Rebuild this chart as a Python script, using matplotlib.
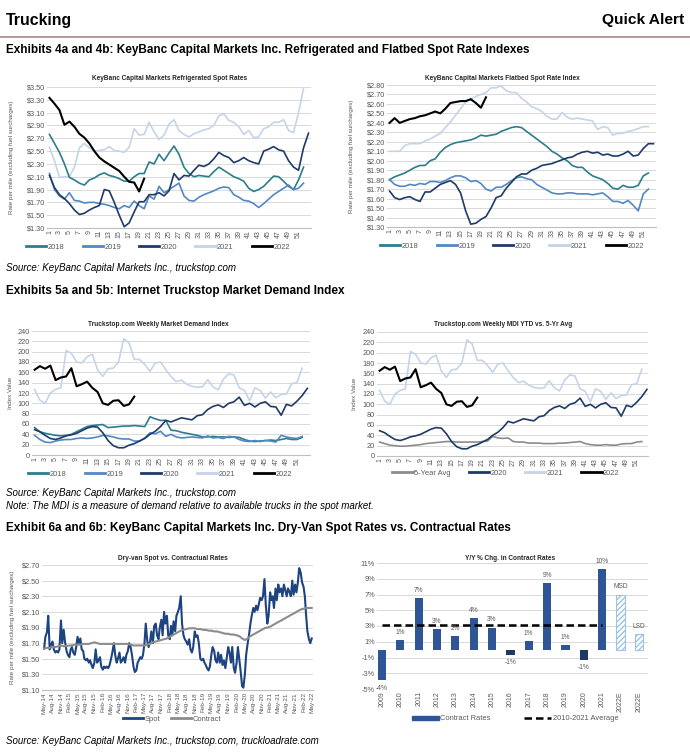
import matplotlib
matplotlib.use("Agg")
import matplotlib.pyplot as plt
from matplotlib import font_manager
from matplotlib.lines import Line2D
from matplotlib.patches import Patch
from matplotlib.ticker import FuncFormatter
import numpy as np
import pandas as pd

# --- Exhibit 4a: refrigerated spot rates ($/mile), by week
ref_2018 = [2.76, 2.62, 2.48, 2.30, 2.09, 2.05, 2.00, 1.97, 2.05, 2.08, 2.13, 2.16, 2.12, 2.10, 2.07, 2.03, 2.03,
            2.10, 2.15, 2.15, 2.33, 2.30, 2.45, 2.35, 2.47, 2.58, 2.45, 2.25, 2.15, 2.10, 2.12, 2.11, 2.10, 2.18,
            2.25, 2.20, 2.15, 2.10, 2.07, 2.03, 1.92, 1.87, 1.90, 1.95, 2.03, 2.11, 2.10, 2.03, 1.95, 1.90, 2.05, 2.25]
ref_2019 = [2.15, 1.90, 1.80, 1.75, 1.85, 1.73, 1.72, 1.69, 1.70, 1.70, 1.68, 1.67, 1.65, 1.62, 1.60, 1.65, 1.62,
            1.72, 1.65, 1.60, 1.80, 1.75, 1.95, 1.85, 1.90, 1.95, 2.00, 1.80, 1.73, 1.72, 1.78, 1.82, 1.85, 1.88,
            1.92, 1.94, 1.93, 1.82, 1.78, 1.73, 1.72, 1.68, 1.62, 1.68, 1.75, 1.82, 1.87, 1.92, 1.97, 1.90, 1.92, 2.00]
ref_2020 = [2.12, 1.93, 1.82, 1.76, 1.68, 1.58, 1.51, 1.53, 1.58, 1.62, 1.65, 1.90, 1.88, 1.70, 1.50, 1.32, 1.38,
            1.55, 1.71, 1.71, 1.82, 1.82, 1.85, 1.80, 1.88, 2.15, 2.05, 2.12, 2.11, 2.20, 2.28, 2.26, 2.30, 2.38,
            2.48, 2.43, 2.40, 2.32, 2.35, 2.40, 2.35, 2.32, 2.30, 2.50, 2.53, 2.57, 2.52, 2.50, 2.35, 2.25, 2.20,
            2.55, 2.78]
ref_2021 = [2.56, 2.35, 2.09, 2.10, 2.10, 2.25, 2.55, 2.62, 2.55, 2.50, 2.51, 2.52, 2.57, 2.51, 2.50, 2.48, 2.56,
            2.85, 2.75, 2.76, 2.95, 2.80, 2.68, 2.75, 2.92, 2.99, 2.82, 2.76, 2.72, 2.77, 2.80, 2.83, 2.85, 2.90,
            3.05, 3.08, 2.98, 2.95, 2.88, 2.76, 2.82, 2.71, 2.72, 2.85, 2.88, 2.95, 2.95, 2.99, 2.82, 2.79, 3.10, 3.48]
ref_2022 = [3.33, 3.24, 3.14, 2.91, 2.96, 2.88, 2.77, 2.71, 2.62, 2.50, 2.40, 2.34, 2.29, 2.24, 2.19, 2.10, 2.02,
            2.01, 1.87, 2.07]

# --- Exhibit 4b: flatbed spot rates ($/mile), by week
flat_2018 = [1.80, 1.83, 1.85, 1.87, 1.90, 1.93, 1.95, 1.95, 2.00, 2.02, 2.09, 2.14, 2.17, 2.19, 2.20, 2.21, 2.22,
             2.24, 2.27, 2.26, 2.27, 2.28, 2.31, 2.33, 2.35, 2.36, 2.35, 2.31, 2.27, 2.23, 2.19, 2.15, 2.10, 2.07,
             2.03, 2.00, 1.95, 1.93, 1.93, 1.88, 1.84, 1.82, 1.80, 1.76, 1.71, 1.70, 1.74, 1.72, 1.72, 1.74, 1.84, 1.87]
flat_2019 = [1.80, 1.75, 1.73, 1.73, 1.75, 1.74, 1.76, 1.75, 1.78, 1.78, 1.77, 1.79, 1.82, 1.84, 1.84, 1.82, 1.78,
             1.79, 1.76, 1.70, 1.68, 1.72, 1.72, 1.75, 1.79, 1.82, 1.83, 1.81, 1.80, 1.75, 1.72, 1.69, 1.66, 1.65,
             1.65, 1.66, 1.66, 1.65, 1.65, 1.65, 1.64, 1.65, 1.66, 1.62, 1.57, 1.57, 1.55, 1.58, 1.53, 1.47, 1.65, 1.70]
flat_2020 = [1.68, 1.61, 1.59, 1.61, 1.62, 1.59, 1.57, 1.67, 1.67, 1.71, 1.75, 1.77, 1.79, 1.75, 1.66, 1.47, 1.33,
             1.34, 1.38, 1.41, 1.50, 1.61, 1.63, 1.71, 1.77, 1.83, 1.86, 1.86, 1.90, 1.92, 1.95, 1.96, 1.97, 1.99,
             2.01, 2.03, 2.04, 2.07, 2.09, 2.10, 2.08, 2.09, 2.06, 2.07, 2.05, 2.05, 2.07, 2.10, 2.05, 2.06, 2.13,
             2.18, 2.18]
flat_2021 = [2.10, 2.10, 2.10, 2.16, 2.18, 2.18, 2.18, 2.21, 2.23, 2.26, 2.29, 2.35, 2.41, 2.48, 2.55, 2.62, 2.65,
             2.68, 2.70, 2.72, 2.77, 2.77, 2.79, 2.74, 2.72, 2.72, 2.66, 2.62, 2.57, 2.55, 2.52, 2.47, 2.44, 2.44,
             2.51, 2.46, 2.44, 2.45, 2.44, 2.43, 2.42, 2.33, 2.36, 2.35, 2.27, 2.29, 2.29, 2.31, 2.32, 2.34, 2.36, 2.36]
flat_2022 = [2.40, 2.45, 2.40, 2.42, 2.44, 2.45, 2.47, 2.48, 2.50, 2.52, 2.50, 2.55, 2.61, 2.62, 2.63, 2.63, 2.65,
             2.61, 2.56, 2.67]

# --- Exhibits 5a/5b: Truckstop.com market demand index, by week
mdi_2018 = [53, 45, 42, 40, 38, 37, 38, 40, 45, 50, 55, 57, 58, 59, 53, 54, 55, 56, 56, 57, 56, 55, 74, 70, 67, 67,
            48, 47, 44, 42, 40, 38, 35, 35, 36, 35, 35, 34, 35, 34, 30, 27, 26, 27, 28, 29, 28, 30, 32, 30, 30, 34]
mdi_2019 = [38, 30, 25, 24, 27, 29, 30, 30, 32, 33, 32, 33, 35, 38, 37, 35, 32, 31, 31, 27, 27, 33, 43, 41, 46, 36,
            40, 35, 33, 34, 35, 34, 33, 37, 33, 34, 32, 36, 35, 30, 27, 26, 28, 26, 28, 27, 25, 38, 35, 33, 32, 36]
mdi_2020 = [49, 45, 38, 32, 30, 33, 37, 39, 42, 47, 52, 55, 54, 43, 28, 18, 14, 14, 19, 22, 27, 32, 40, 46, 55, 67,
            64, 68, 72, 70, 68, 76, 78, 88, 94, 97, 92, 100, 103, 112, 96, 100, 93, 100, 103, 94, 93, 77, 98, 95,
            104, 115, 129]
mdi_2021 = [127, 106, 100, 120, 127, 130, 202, 197, 180, 178, 190, 195, 165, 152, 167, 168, 180, 225, 217, 185, 185,
            175, 162, 178, 180, 165, 152, 142, 145, 137, 133, 131, 132, 146, 132, 126, 147, 157, 155, 130, 125, 105,
            130, 125, 110, 122, 111, 117, 118, 138, 140, 168]
mdi_2022 = [165, 172, 167, 173, 145, 150, 152, 168, 133, 137, 142, 130, 122, 100, 97, 105, 106, 95, 98, 113]
mdi_5yr = [27, 24, 21, 20, 19, 19, 20, 21, 22, 24, 25, 26, 27, 28, 28, 27, 27, 27, 27, 27, 28, 29, 38, 35, 34, 35,
           28, 27, 27, 25, 25, 25, 24, 24, 24, 25, 25, 26, 27, 28, 24, 22, 21, 21, 22, 21, 21, 23, 24, 24, 27, 28]

# --- Exhibit 6a: dry-van spot (twice a month) and contract (monthly), from May-14
spot = [1.63, 1.78, 1.84, 2.05, 1.62, 1.68, 1.72, 1.62, 1.58, 1.60, 1.58, 1.62, 1.99, 1.70, 1.87, 1.72,
        1.60, 1.55, 1.52, 1.62, 1.65, 1.58, 1.55, 1.64, 1.78, 1.70, 1.76, 1.62, 1.60, 1.50, 1.48, 1.50,
        1.45, 1.48, 1.42, 1.38, 1.45, 1.62, 1.45, 1.48, 1.52, 1.40, 1.36, 1.40, 1.38, 1.40, 1.38, 1.42,
        1.50, 1.58, 1.70, 1.55, 1.45, 1.50, 1.58, 1.45, 1.48, 1.52, 1.45, 1.55, 1.60, 1.70, 1.65, 1.55,
        1.40, 1.33, 1.35, 1.45, 1.48, 1.52, 1.50, 1.55, 1.70, 1.95, 1.72, 1.65, 1.72, 1.85, 1.70, 1.92,
        1.95, 1.80, 1.75, 1.90, 2.00, 1.80, 2.10, 1.95, 2.05, 1.80, 1.75, 1.92, 1.80, 1.98, 1.85, 2.05,
        2.10, 2.15, 2.30, 1.95, 1.80, 1.75, 1.72, 1.68, 1.75, 1.62, 1.58, 1.65, 1.85, 1.78, 1.80, 1.70,
        1.50, 1.48, 1.50, 1.45, 1.42, 1.38, 1.35, 1.40, 1.55, 1.65, 1.60, 1.48, 1.45, 1.58, 1.45, 1.55,
        1.42, 1.48, 1.38, 1.50, 1.65, 1.58, 1.45, 1.65, 1.38, 1.32, 1.45, 1.65, 1.50, 1.35, 1.15, 1.13,
        1.30, 1.55, 1.70, 1.80, 1.95, 2.05, 2.15, 2.10, 2.18, 2.12, 2.20, 2.28, 2.25, 2.30, 2.52, 2.20,
        1.95, 2.05, 2.35, 2.25, 2.30, 2.15, 2.40, 2.25, 2.45, 2.35, 2.40, 2.30, 2.45, 2.38, 2.30, 2.40,
        2.35, 2.30, 2.50, 2.32, 2.45, 2.35, 2.48, 2.66, 2.60, 2.48, 2.42, 2.30, 2.05, 1.85, 1.75, 1.70,
        1.76]
contract = [1.63, 1.64, 1.64, 1.65, 1.65, 1.66, 1.67, 1.66, 1.66, 1.67, 1.67, 1.68,
            1.68, 1.68, 1.69, 1.69, 1.69, 1.70, 1.71, 1.70, 1.69, 1.69, 1.69, 1.69,
            1.69, 1.69, 1.69, 1.69, 1.69, 1.69, 1.69, 1.68, 1.67, 1.67, 1.67, 1.67,
            1.67, 1.68, 1.69, 1.71, 1.72, 1.73, 1.74, 1.75, 1.76, 1.78, 1.80, 1.82,
            1.84, 1.86, 1.87, 1.88, 1.89, 1.89, 1.89, 1.88, 1.88, 1.87, 1.87, 1.86,
            1.86, 1.85, 1.85, 1.84, 1.83, 1.82, 1.82, 1.81, 1.81, 1.80, 1.79, 1.76,
            1.74, 1.76, 1.79, 1.81, 1.83, 1.85, 1.87, 1.89, 1.90, 1.91, 1.93, 1.95,
            1.97, 1.99, 2.01, 2.03, 2.05, 2.07, 2.09, 2.11, 2.13, 2.14, 2.15, 2.15,
            2.15]

# --- Exhibit 6b: y/y % change in contract rates
bar_years = ["2009", "2010", "2011", "2012", "2013", "2014", "2015", "2016", "2017", "2018", "2019", "2020",
             "2021", "2022E", "2022E"]
bar_vals = [-3.9, 1.2, 6.5, 2.6, 1.7, 4.0, 2.8, -0.7, 1.1, 8.5, 0.6, -1.3, 10.2, 7.0, 2.0]
bar_text = ["-4%", "1%", "7%", "3%", "2%", "4%", "3%", "-1%", "1%", "9%", "1%", "-1%", "10%", "MSD", "LSD"]
avg_2010_2021 = 3.1

C18, C19, C20, C21, C22 = "#2c7d8c", "#5288c4", "#1f3a68", "#c5d4e8", "#000000"
GRID = "#d9d9d9"
TXT = "#595959"

installed = {f.name for f in font_manager.fontManager.ttflist}
if "Liberation Sans Narrow" in installed:
    NARROW, NS = "Liberation Sans Narrow", 1.0
else:
    NARROW, NS = "Liberation Sans", 0.82
plt.rcParams["font.family"] = ["Liberation Sans", "DejaVu Sans"]

W, H = 690, 754
fig = plt.figure(figsize=(W / 100, H / 100), dpi=100)


def box(l, t, r, b):
    return fig.add_axes([l / W, 1 - b / H, (r - l) / W, (b - t) / H])


def put(x, y, s, **kw):
    fig.text(x / W, 1 - y / H, s, **kw)


def base_style(ax, lo, hi, step, fmt):
    ax.set_ylim(lo, hi)
    ax.set_yticks(np.arange(lo, hi + step / 2, step))
    ax.yaxis.set_major_formatter(FuncFormatter(fmt))
    ax.grid(axis="y", color=GRID, lw=0.7)
    ax.set_axisbelow(True)
    for s in ["top", "right", "left"]:
        ax.spines[s].set_visible(False)
    ax.spines["bottom"].set_color("#bfbfbf")
    ax.tick_params(axis="both", length=0, labelsize=5.3, colors=TXT, pad=1.5)


def weekly(ax, series, lo, hi, step, fmt, xmax=53.5):
    for vals, col, lw in series:
        ax.plot(range(1, len(vals) + 1), vals, color=col, lw=lw, solid_joinstyle="round")
    base_style(ax, lo, hi, step, fmt)
    ax.set_xlim(0.5, xmax)
    ax.set_xticks(range(1, 52, 2))
    ax.set_xticklabels([str(w) for w in range(1, 52, 2)], rotation=90, fontsize=5)


def legend_at(ax, handles, labels, cx, cy, **kw):
    opts = dict(loc="center", ncol=len(handles), frameon=False, fontsize=5.4, handlelength=2.7,
                handletextpad=0.2, columnspacing=2.4, labelcolor=TXT)
    opts.update(kw)
    ax.legend(handles, labels, bbox_to_anchor=(cx / W, 1 - cy / H), bbox_transform=fig.transFigure, **opts)


dollar = lambda v, _: f"${v:.2f}"
plain = lambda v, _: f"{v:.0f}"
pct = lambda v, _: f"{v:.0f}%"

# header
put(6, 20, "Trucking", fontsize=14 * NS, weight="bold", family=NARROW, va="center")
put(684, 20, "Quick Alert", fontsize=13.6 * NS, weight="bold", family=NARROW, va="center", ha="right")
fig.add_artist(Line2D([0, 1], [1 - 37 / H] * 2, color="#b09090", lw=1.3, transform=fig.transFigure))
head = dict(fontsize=10.3 * NS, weight="bold", family=NARROW, va="center")
note = dict(fontsize=8.6 * NS, style="italic", family=NARROW, va="center")
put(6, 50, "Exhibits 4a and 4b: KeyBanc Capital Markets Inc. Refrigerated and Flatbed Spot Rate Indexes", **head)
put(6, 268, "Source: KeyBanc Capital Markets Inc., truckstop.com", **note)
put(6, 291, "Exhibits 5a and 5b: Internet Truckstop Market Demand Index", **head)
put(6, 493, "Source: KeyBanc Capital Markets Inc., truckstop.com", **note)
put(6, 506, "Note: The MDI is a measure of demand relative to available trucks in the spot market.", **note)
put(6, 528, "Exhibit 6a and 6b: KeyBanc Capital Markets Inc. Dry-Van Spot Rates vs. Contractual Rates", **head)
put(6, 741, "Source: KeyBanc Capital Markets Inc., truckstop.com, truckloadrate.com", **note)

ttl = dict(fontsize=4.7, weight="bold", ha="center", va="center", color="#262626")
ylab = dict(fontsize=4.5, rotation=90, ha="center", va="center", color=TXT)
year_lbls = ["2018", "2019", "2020", "2021", "2022"]
year_cols = [C18, C19, C20, C21, C22]
year_handles = [Line2D([], [], color=c, lw=2) for c in year_cols]

# 4a
ax = box(47, 87, 311, 228)
weekly(ax, [(ref_2021, C21, 1.2), (ref_2018, C18, 1.2), (ref_2019, C19, 1.2), (ref_2020, C20, 1.2),
            (ref_2022, C22, 1.5)], 1.30, 3.50, 0.20, dollar)
put(170, 78, "KeyBanc Capital Markets Refrigerated Spot Rates", **ttl)
put(12, 157, "Rate per mile (excluding fuel surcharges)", **ylab)
legend_at(ax, year_handles, year_lbls, 158, 247)

# 4b
ax = box(387, 85, 656, 227)
weekly(ax, [(flat_2021, C21, 1.2), (flat_2018, C18, 1.2), (flat_2019, C19, 1.2), (flat_2020, C20, 1.2),
            (flat_2022, C22, 1.5)], 1.30, 2.80, 0.10, dollar)
put(502, 78, "KeyBanc Capital Markets Flatbed Spot Rate Index", **ttl)
put(352, 156, "Rate per mile (excluding fuel surcharges)", **ylab)
legend_at(ax, year_handles, year_lbls, 512, 246)

# 5a
ax = box(32, 331, 310, 455)
weekly(ax, [(mdi_2021, C21, 1.2), (mdi_2018, C18, 1.2), (mdi_2019, C19, 1.2), (mdi_2020, C20, 1.2),
            (mdi_2022, C22, 1.5)], 0, 240, 20, plain)
put(158, 324, "Truckstop.com Weekly Market Demand Index", **ttl)
put(10, 393, "Index Value", **ylab)
legend_at(ax, year_handles, year_lbls, 160, 474)

# 5b
ax = box(377, 332, 648, 456)
weekly(ax, [(mdi_5yr, "#8c8c8c", 1.2), (mdi_2021, C21, 1.2), (mdi_2020, C20, 1.2), (mdi_2022, C22, 1.5)],
       0, 240, 20, plain, xmax=53.2)
put(503, 325, "Truckstop.com Weekly MDI YTD vs. 5-Yr Avg", **ttl)
put(355, 394, "Index Value", **ylab)
legend_at(ax, [Line2D([], [], color=c, lw=2) for c in ["#8c8c8c", C20, C21, C22]],
          ["5-Year Avg", "2020", "2021", "2022"], 506, 473)

# 6a
ax = box(42, 565, 313, 690)
spot_dates = pd.date_range("2014-05-01", periods=len(spot), freq="SMS")
contract_dates = pd.date_range("2014-05-01", periods=len(contract), freq="MS")
ax.plot(spot_dates, spot, color="#1d4480", lw=1.5, solid_joinstyle="round")
ax.plot(contract_dates, contract, color="#8c8c8c", lw=1.5)
base_style(ax, 1.10, 2.70, 0.20, dollar)
ticks = pd.date_range("2014-05-01", "2022-05-01", freq="3MS")
ax.set_xticks(ticks)
ax.set_xticklabels([t.strftime("%b-%y") for t in ticks], rotation=90, fontsize=4.6)
ax.set_xlim(pd.Timestamp("2014-04-08"), pd.Timestamp("2022-05-15"))
put(173, 559, "Dry-van Spot vs. Contractual Rates", **ttl)
put(13, 627, "Rate per mile (excluding fuel surcharges)", **ylab)
legend_at(ax, [Line2D([], [], color="#1d4480", lw=2), Line2D([], [], color="#8c8c8c", lw=2)],
          ["Spot", "Contract"], 172, 719, columnspacing=1.5)

# 6b
ax = box(377, 563, 648, 689)
xpos = np.arange(len(bar_vals))
cols = ["#2f5597"] * 13
cols[7] = cols[11] = "#1f3864"
ax.bar(xpos[:13], bar_vals[:13], width=0.45, color=cols)
ax.bar(xpos[13:], bar_vals[13:], width=0.45, color="white", edgecolor="#9dc3e6", hatch="//////", lw=0.8)
ax.plot(xpos[:13], [avg_2010_2021] * 13, color="black", lw=1.8, dashes=(3, 1.6))
for x, v, s in zip(xpos, bar_vals, bar_text):
    ax.annotate(s, (x, v), xytext=(0, 3 if v >= 0 else -3), textcoords="offset points",
                ha="center", va="bottom" if v >= 0 else "top", fontsize=4.8, color=TXT)
base_style(ax, -5, 11, 2, pct)
ax.spines["bottom"].set_visible(False)
ax.set_xlim(-0.27, 14.5)
ax.set_xticks(xpos)
ax.set_xticklabels(bar_years, rotation=90, fontsize=5)
put(510, 558, "Y/Y % Chg. in Contract Rates", **ttl)
legend_at(ax, [Patch(color="#2f5597"), Line2D([], [], color="black", lw=1.8, dashes=(3, 1.6))],
          ["Contract Rates", "2010-2021 Average"], 515, 719, columnspacing=4.5, handlelength=3.6,
          handleheight=0.5)

fig.savefig("out.png", dpi=100)
